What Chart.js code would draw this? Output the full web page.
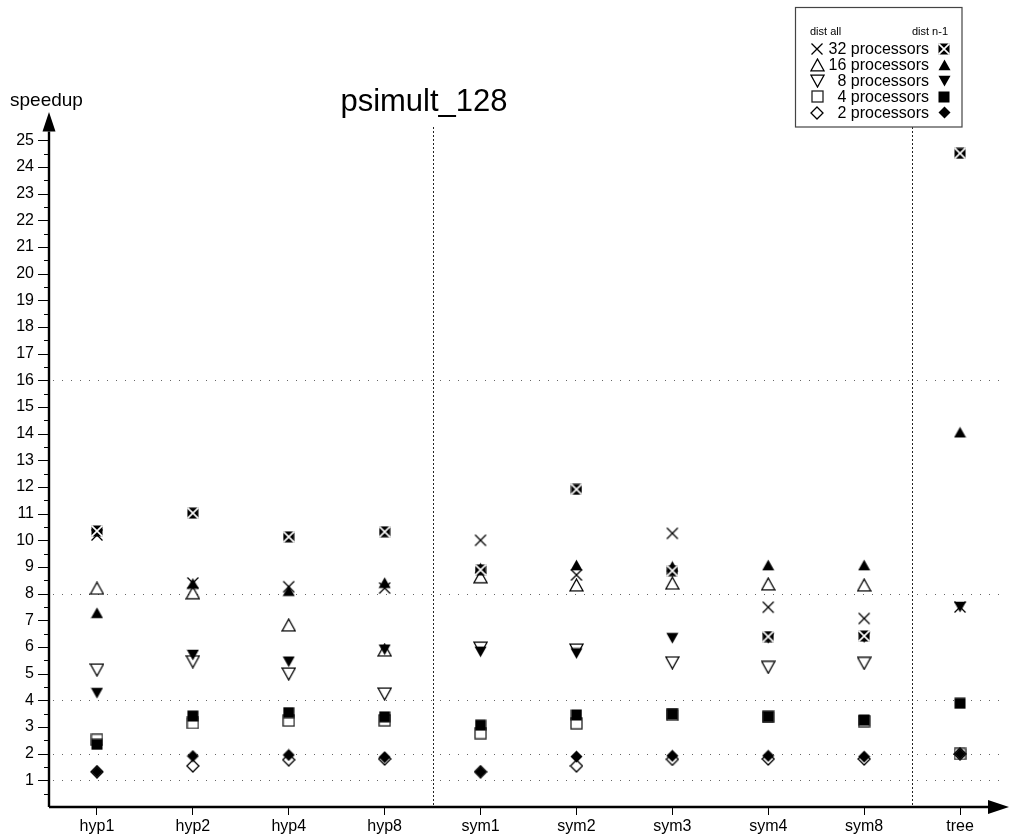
<!DOCTYPE html>
<html><head><meta charset="utf-8">
<script src="https://cdn.jsdelivr.net/npm/chart.js@4.4.1/dist/chart.umd.min.js"></script>
<style>html,body{margin:0;padding:0;background:#fff;overflow:hidden}</style>
</head><body>
<canvas id="c" width="1015" height="835"></canvas>
<script>
// ---- data ----
const categories = ['hyp1','hyp2','hyp4','hyp8','sym1','sym2','sym3','sym4','sym8','tree'];
const all32 = [10.2, 8.4, 8.26, 8.21, 10.0, 8.7, 10.26, 7.49, 7.07, 7.5];
const n1_32 = [10.35, 11.02, 10.13, 10.32, 8.89, 11.91, 8.86, 6.39, 6.41, 24.51];
const all16 = [8.2, 8.03, 6.82, 5.88, 8.63, 8.32, 8.39, 8.36, 8.32, null];
const n1_16 = [7.28, 8.38, 8.11, 8.41, 8.95, 9.07, 9.02, 9.07, 9.07, 14.05];
const all8  = [5.14, 5.45, 4.99, 4.24, 5.96, 5.89, 5.41, 5.24, 5.39, null];
const n1_8  = [4.27, 5.7, 5.45, 5.9, 5.82, 5.76, 6.33, 6.33, 6.36, 7.5];
const all4  = [2.52, 3.15, 3.24, 3.25, 2.77, 3.14, 3.45, 3.38, 3.22, 1.99];
const n1_4  = [2.35, 3.41, 3.54, 3.38, 3.07, 3.45, 3.48, 3.39, 3.26, 3.89];
const all2  = [1.32, 1.54, 1.77, 1.8, 1.32, 1.54, 1.79, 1.8, 1.8, 1.99];
const n1_2  = [1.32, 1.91, 1.95, 1.87, 1.32, 1.89, 1.92, 1.92, 1.89, 1.99];
const yTickLabels = [1,2,3,4,5,6,7,8,9,10,11,12,13,14,15,16,17,18,19,20,21,22,23,24,25];
const gridValues = [1,2,4,8,16];
const legendLabels = ['32 processors','16 processors','8 processors','4 processors','2 processors'];
const titleText = 'psimult_128';
const yAxisTitle = 'speedup';

// ---- marker images ----
function mk(w,h,fn){const c=document.createElement('canvas');c.width=w;c.height=h;const g=c.getContext('2d');g.strokeStyle='#000';g.fillStyle='#000';fn(g);return c;}
function poly(g,pts,fill){g.beginPath();g.moveTo(pts[0][0],pts[0][1]);for(let i=1;i<pts.length;i++)g.lineTo(pts[i][0],pts[i][1]);g.closePath();if(fill)g.fill();else g.stroke();}
const mCross = mk(14,14,g=>{g.lineWidth=1.3;g.beginPath();g.moveTo(1.5,1.5);g.lineTo(12.5,12.5);g.moveTo(12.5,1.5);g.lineTo(1.5,12.5);g.stroke();});
const mBoxX = mk(12,12,g=>{g.fillRect(0.5,0.5,11,11);g.strokeStyle='#fff';g.lineWidth=1.6;g.beginPath();g.moveTo(0.5,0.5);g.lineTo(11.5,11.5);g.moveTo(11.5,0.5);g.lineTo(0.5,11.5);g.stroke();});
const mTriUpO = mk(15,14,g=>{g.lineWidth=1.3;poly(g,[[7.5,1],[14,12.8],[1,12.8]]);});
const mTriUpF = mk(13,12,g=>{poly(g,[[6.5,0.5],[12.5,11.2],[0.5,11.2]],true);});
const mTriDnO = mk(15,14,g=>{g.lineWidth=1.3;poly(g,[[1,1.2],[14,1.2],[7.5,13]]);});
const mTriDnF = mk(13,12,g=>{poly(g,[[0.5,0.8],[12.5,0.8],[6.5,11.5]],true);});
const mSqO = mk(13,13,g=>{g.lineWidth=1.3;g.strokeStyle='#222';g.strokeRect(1,1,11,11);});
const mSqF = mk(12,12,g=>{g.fillRect(0.5,0.5,11,11);});
const mDiO = mk(14,14,g=>{g.lineWidth=1.3;poly(g,[[7,1],[13,7],[7,13],[1,7]]);});
const mDiF = mk(13,13,g=>{poly(g,[[6.5,0.5],[12.5,6.5],[6.5,12.5],[0.5,6.5]],true);});

function ds(data, img){return {data, pointStyle:img, showLine:false, pointRadius:6, pointHoverRadius:6};}
// dataset 0 is drawn on top
const datasets = [
  ds(n1_32, mBoxX), ds(n1_16, mTriUpF), ds(n1_8, mTriDnF), ds(n1_4, mSqF), ds(n1_2, mDiF),
  ds(all32, mCross), ds(all16, mTriUpO), ds(all8, mTriDnO), ds(all4, mSqO), ds(all2, mDiO)
];
const FONT = 'Liberation Sans, Arial, Helvetica, sans-serif';

const decor = {
  id:'decor',
  beforeDatasetsDraw(chart){
    const {ctx, chartArea:a, scales:{x,y}} = chart;
    ctx.save();
    ctx.strokeStyle='#666'; ctx.lineWidth=1; ctx.setLineDash([1,8]);
    gridValues.forEach(v=>{const py=Math.round(y.getPixelForValue(v))+0.5;ctx.beginPath();ctx.moveTo(a.left+4,py);ctx.lineTo(a.right-5,py);ctx.stroke();});
    ctx.strokeStyle='#222'; ctx.setLineDash([2,2]);
    [[3,4],[8,9]].forEach(([i,j])=>{const px=Math.round((x.getPixelForValue(i)+x.getPixelForValue(j))/2)+0.5;ctx.beginPath();ctx.moveTo(px,127);ctx.lineTo(px,a.bottom);ctx.stroke();});
    ctx.restore();
  },
  afterDraw(chart){
    const {ctx, chartArea:a, scales:{x,y}} = chart;
    ctx.save();
    ctx.setLineDash([]);
    ctx.strokeStyle='#000'; ctx.fillStyle='#000';
    const x0 = a.left, y0 = y.getPixelForValue(0);
    ctx.lineWidth=1;
    for(let v=0.5; v<=25.5; v+=0.5){
      const py=Math.round(y.getPixelForValue(v))+0.5;
      const len = (Math.abs(v-Math.round(v))<1e-6)?11:5;
      ctx.beginPath();ctx.moveTo(x0-len,py);ctx.lineTo(x0,py);ctx.stroke();
    }
    ctx.lineWidth=2.4;
    ctx.beginPath();ctx.moveTo(x0,y0);ctx.lineTo(x0,a.top+18);ctx.stroke();
    ctx.beginPath();ctx.moveTo(x0,y0);ctx.lineTo(a.right-20,y0);ctx.stroke();
    ctx.beginPath();ctx.moveTo(x0,a.top-1.5);ctx.lineTo(x0+6.5,a.top+18);ctx.lineTo(x0-6.5,a.top+18);ctx.closePath();ctx.fill();
    ctx.beginPath();ctx.moveTo(a.right+1,y0);ctx.lineTo(a.right-20,y0-7);ctx.lineTo(a.right-20,y0+7);ctx.closePath();ctx.fill();
    ctx.textAlign='left'; ctx.textBaseline='alphabetic';
    ctx.font='19px '+FONT; ctx.fillText(yAxisTitle, 10, 106);
    ctx.textAlign='center'; ctx.font='31px '+FONT; ctx.fillText(titleText, 424, 111);
    ctx.lineWidth=1.2; ctx.strokeStyle='#444';
    ctx.strokeRect(795.5,7.5,166.5,119.5);
    ctx.fillStyle='#000';
    ctx.font='11px '+FONT; ctx.textBaseline='middle';
    ctx.textAlign='left'; ctx.fillText('dist all', 810, 32);
    ctx.textAlign='right'; ctx.fillText('dist n-1', 948, 32);
    ctx.font='16px '+FONT;
    const openM=[mCross,mTriUpO,mTriDnO,mSqO,mDiO], fillM=[mBoxX,mTriUpF,mTriDnF,mSqF,mDiF];
    legendLabels.forEach((t,i)=>{
      const cy=48.5+i*16;
      ctx.fillText(t, 929, cy+1);
      const o=openM[i], f=fillM[i];
      ctx.drawImage(o, Math.round(817-o.width/2), Math.round(cy-o.height/2));
      ctx.drawImage(f, Math.round(944-f.width/2), Math.round(cy-f.height/2));
    });
    ctx.restore();
  }
};

new Chart(document.getElementById('c'), {
  type:'line',
  data:{labels:categories, datasets},
  options:{
    responsive:false, animation:false, events:[],
    layout:{padding:{top:113.6, right:6, left:0, bottom:0}},
    plugins:{legend:{display:false}, tooltip:{enabled:false}, title:{display:false}},
    scales:{
      x:{type:'category', offset:true,
         afterFit(s){s.height=28;},
         grid:{display:true, drawOnChartArea:false, drawTicks:true, tickLength:8, offset:false, color:'#000', lineWidth:1},
         border:{display:false},
         ticks:{padding:2, color:'#000', font:{family:FONT, size:16}, autoSkip:false, maxRotation:0}},
      y:{type:'linear', min:0, max:26,
         afterFit(s){s.width=49;},
         afterBuildTicks(s){s.ticks = yTickLabels.map(v=>({value:v}));},
         grid:{display:false, drawTicks:false},
         border:{display:false},
         ticks:{padding:15, color:'#000', font:{family:FONT, size:16}, autoSkip:false}}
    }
  },
  plugins:[decor]
});
</script>
</body></html>
